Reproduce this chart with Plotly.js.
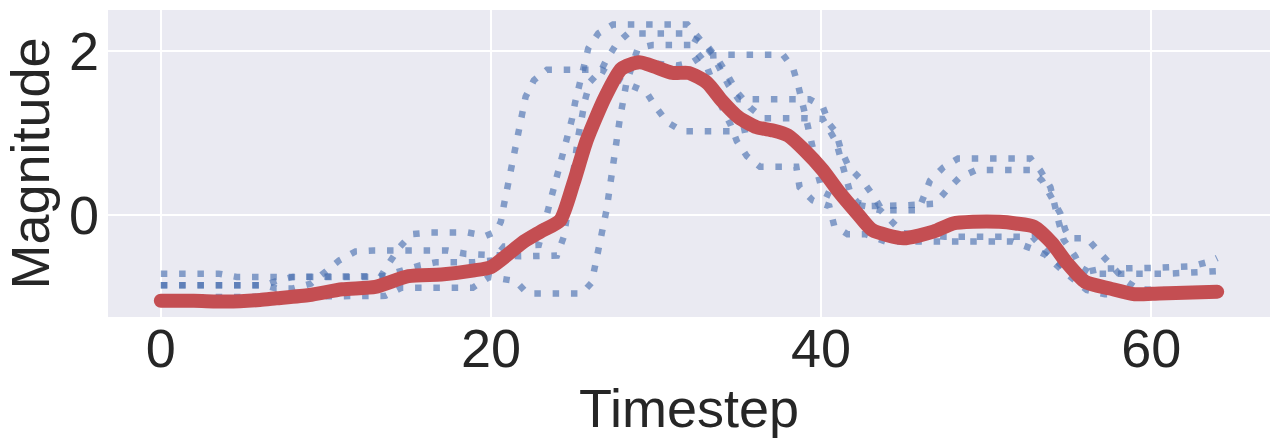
<!DOCTYPE html>
<html>
<head>
<meta charset="utf-8">
<script src="https://cdn.plot.ly/plotly-3.0.1.min.js"></script>
<style>
  html, body { margin: 0; padding: 0; background: #ffffff; }
  #chart { width: 1280px; height: 445px; }
  /* round ends on the thick red line only */
  #chart .scatterlayer .trace:last-child .js-line { stroke-linecap: round; stroke-linejoin: round; }
</style>
</head>
<body>
<div id="chart"></div>
<script>
// sample series (blue, dotted): timestep / magnitude
var sampleAT = [0, 3.5, 4.6, 13.3, 13.9, 14.5, 15.2, 16.3, 18.6, 19.7, 20.3, 20.6, 20.8, 21.0, 21.2, 21.4, 21.6, 21.8, 22.1, 22.6, 23.4, 26.7, 28.2, 29.4, 30.0, 30.7, 31.6, 34.9, 36.1, 37.1, 38, 39, 40.1, 41.1, 42.2, 43.1, 45, 46.8, 48, 49.2, 50.8, 51.8, 52.9, 54, 54.9, 56, 57.5, 59, 60.5, 62.5, 64];
var sampleAV = [-0.71, -0.71, -0.75, -0.75, -0.56, -0.38, -0.23, -0.21, -0.21, -0.25, -0.2, -0.08, 0.14, 0.35, 0.57, 0.79, 1.01, 1.23, 1.44, 1.64, 1.77, 1.77, 1.6, 1.5, 1.31, 1.13, 1.02, 1.02, 1.07, 1.03, 0.97, 0.79, 0.55, 0.28, 0.02, -0.18, -0.28, -0.2, -0.1, -0.08, -0.08, -0.1, -0.14, -0.34, -0.58, -0.81, -0.89, -0.96, -0.95, -0.94, -0.93];

var sampleBT = [0, 6.3, 7, 8, 9.1, 10, 10.8, 11.8, 12.9, 17.4, 18.5, 19.6, 21.8, 24, 24.4, 24.7, 25.0, 25.3, 25.5, 25.7, 26, 26.7, 27, 27.6, 28.3, 31.7, 33.1, 33.8, 34.4, 34.9, 35.7, 36.5, 39.1, 40.1, 40.9, 41.2, 41.5, 41.8, 42.2, 42.7, 45, 46.9, 47.6, 48.4, 49.4, 52.7, 53.4, 54, 54.5, 54.8, 55.1, 56.1, 56.9, 57.6, 58.4, 59.2, 64];
var sampleBV = [-0.85, -0.85, -0.89, -0.89, -0.83, -0.69, -0.55, -0.44, -0.43, -0.43, -0.47, -0.48, -0.5, -0.49, -0.27, 0.1, 0.6, 0.97, 1.18, 1.4, 1.62, 1.77, 1.89, 2.08, 2.21, 2.21, 2.06, 1.88, 1.68, 1.5, 1.31, 1.18, 1.18, 1.17, 0.9, 0.68, 0.47, 0.25, 0.16, 0.11, 0.12, 0.14, 0.3, 0.46, 0.55, 0.55, 0.42, 0.22, 0.02, -0.18, -0.28, -0.28, -0.46, -0.63, -0.79, -0.9, -0.93];

var sampleCT = [0, 6.3, 7, 8, 13.5, 14.6, 15.7, 16.7, 19, 20.1, 20.8, 22.9, 23.2, 23.5, 23.8, 24.1, 24.3, 24.6, 24.9, 25.1, 25.4, 25.6, 25.9, 26.5, 27.4, 31.9, 32.6, 33.4, 33.9, 34.4, 35, 39.3, 40.1, 40.5, 40.9, 41.2, 41.7, 42.5, 43.2, 43.7, 45.9, 46.6, 47.4, 48.3, 52.7, 53.3, 53.9, 54.2, 54.4, 54.7, 55.4, 55.7, 56.4, 61, 64];
var sampleCV = [-0.85, -0.85, -0.8, -0.75, -0.74, -0.67, -0.61, -0.57, -0.57, -0.55, -0.38, -0.36, -0.13, 0.08, 0.3, 0.51, 0.74, 0.95, 1.16, 1.37, 1.6, 1.8, 2.03, 2.21, 2.32, 2.32, 2.14, 1.96, 1.77, 1.58, 1.41, 1.41, 1.32, 1.11, 1.01, 0.8, 0.58, 0.42, 0.23, 0.06, 0.06, 0.42, 0.58, 0.69, 0.69, 0.54, 0.34, 0.13, -0.08, -0.3, -0.5, -0.63, -0.71, -0.71, -0.68];

var sampleDT = [0, 9, 10.3, 13.6, 14.6, 18.9, 19.9, 21.5, 22.2, 25.5, 26.1, 27.0, 27.8, 28.2, 28.9, 29.8, 32.1, 33.0, 34.0, 34.5, 34.9, 35.5, 36.3, 38.5, 38.7, 39.5, 40.5, 40.8, 41.6, 42.7, 43.9, 51.6, 52.7, 53.6, 54.4, 55.4, 56.1, 57.2, 60, 64];
var sampleDV = [-1.0, -0.99, -0.98, -0.98, -0.88, -0.88, -0.75, -0.8, -0.95, -0.95, -0.82, 0.06, 1.16, 1.6, 2.03, 2.07, 2.07, 1.85, 1.31, 1.11, 0.9, 0.72, 0.59, 0.59, 0.34, 0.18, 0.11, -0.13, -0.23, -0.23, -0.32, -0.32, -0.4, -0.48, -0.63, -0.8, -0.91, -0.96, -0.94, -0.93];

var sampleET = [0, 4, 7, 9, 11, 13, 15, 17, 19, 20, 22, 23, 24.2, 25, 25.8, 26.9, 27.7, 29, 31.3, 32.2, 32.8, 34.3, 37.7, 38.3, 38.6, 39.1, 39.4, 39.6, 39.8, 40.1, 41.5, 42.7, 43.6, 44.5, 45, 47.5, 52.8, 53.7, 54.5, 55.3, 56.4, 57, 60, 62.5, 63.6, 64];
var sampleEV = [-1.04, -1.05, -1.01, -0.97, -0.9, -0.87, -0.74, -0.72, -0.67, -0.63, -0.32, -0.2, -0.06, 0.39, 0.91, 1.43, 1.82, 1.86, 1.82, 1.86, 1.94, 1.95, 1.95, 1.79, 1.59, 1.17, 0.94, 0.73, 0.5, 0.28, 0.15, 0.11, 0.06, -0.13, -0.22, -0.26, -0.26, -0.45, -0.6, -0.72, -0.68, -0.65, -0.64, -0.62, -0.56, -0.52];

// thick red line
var meanT = [0, 2, 4, 6, 7, 9, 11, 13, 15, 17, 19, 20, 22, 23, 24.2, 25, 25.8, 26.9, 27.9, 29, 31, 32, 33.1, 34, 35, 36.1, 37.1, 38, 39, 40.1, 41.1, 42.2, 43.1, 45, 46.8, 48, 49.2, 50.8, 51.8, 52.9, 54, 54.9, 56, 57.5, 59, 60.5, 62.5, 64];
var meanV = [-1.04, -1.04, -1.05, -1.03, -1.01, -0.97, -0.9, -0.87, -0.74, -0.72, -0.67, -0.63, -0.32, -0.2, -0.06, 0.39, 0.91, 1.43, 1.78, 1.86, 1.73, 1.73, 1.61, 1.39, 1.19, 1.07, 1.03, 0.97, 0.79, 0.55, 0.28, 0.02, -0.18, -0.28, -0.2, -0.1, -0.08, -0.08, -0.1, -0.14, -0.34, -0.58, -0.81, -0.89, -0.96, -0.95, -0.94, -0.93];

var xTicks = [0, 20, 40, 60];
var yTicks = [0, 2];

function sample(t, v) {
  return {
    x: t,
    y: v,
    mode: 'lines',
    type: 'scatter',
    opacity: 0.65,
    line: { color: '#4c72b0', width: 6.5, dash: '6.5px,11.8px' },
    hoverinfo: 'skip',
  };
}

var plotData = [
  sample(sampleAT, sampleAV),
  sample(sampleBT, sampleBV),
  sample(sampleCT, sampleCV),
  sample(sampleDT, sampleDV),
  sample(sampleET, sampleEV),
  {
    x: meanT,
    y: meanV,
    mode: 'lines',
    type: 'scatter',
    line: { color: '#c44e52', width: 14, shape: 'spline', smoothing: 0.6 },
    hoverinfo: 'skip',
  },
];

var axisFont = { family: 'Liberation Sans, Arial, sans-serif', size: 54, color: '#262626' };

var layout = {
  width: 1280,
  height: 445,
  margin: { l: 108, r: 10, t: 10, b: 128 },
  paper_bgcolor: '#ffffff',
  plot_bgcolor: '#eaeaf2',
  showlegend: false,
  hovermode: false,
  font: axisFont,
  xaxis: {
    range: [-3.2, 67.2],
    tickvals: xTicks,
    ticktext: xTicks.map(String),
    tickfont: axisFont,
    ticks: '',
    ticklabelstandoff: -5,
    showgrid: true,
    gridcolor: '#ffffff',
    gridwidth: 2,
    zeroline: false,
    showline: false,
    automargin: true,
    title: { text: 'Timestep', font: axisFont, standoff: 0 },
  },
  yaxis: {
    range: [-1.237, 2.495],
    tickvals: yTicks,
    ticktext: yTicks.map(String),
    tickfont: axisFont,
    ticks: '',
    ticklabelstandoff: 8,
    showgrid: true,
    gridcolor: '#ffffff',
    gridwidth: 2,
    zeroline: false,
    showline: false,
    title: { text: 'Magnitude', font: axisFont, standoff: 2 },
  },
};

Plotly.newPlot('chart', plotData, layout, { staticPlot: true, displayModeBar: false });
</script>
</body>
</html>
